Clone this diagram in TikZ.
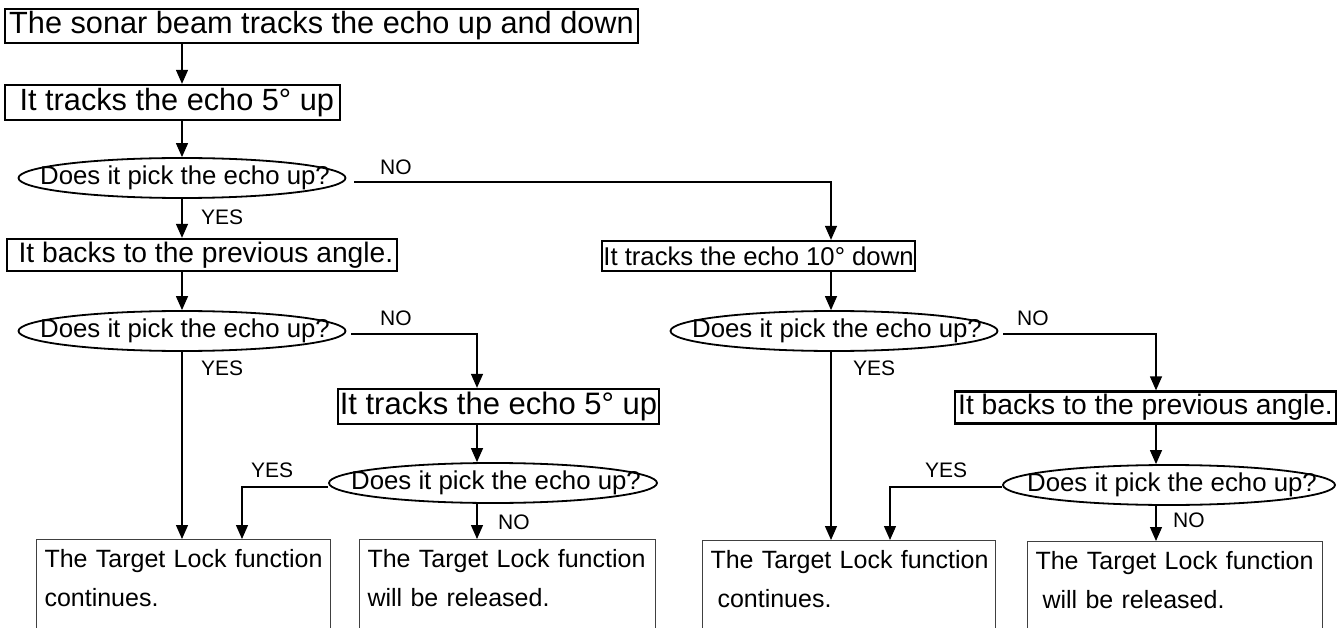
\documentclass[tikz,border=0pt]{standalone}
\usepackage{fontspec}
\setmainfont{Liberation Sans}
\usetikzlibrary{arrows.meta, shapes.geometric}

\newcommand{\fsz}[1]{\fontsize{#1}{#1}\selectfont}

\begin{document}
\begin{tikzpicture}[
	x=1pt, y=-1pt,
	box/.style={draw, line width=2.3pt, inner sep=0pt, minimum height=34pt},
	ask/.style={draw, ellipse, line width=1.8pt, inner sep=0pt, minimum height=40pt, font=\fsz{25.8}},
	result/.style={draw=black!75, line width=1pt, anchor=north west, align=left, inner xsep=8pt, inner ysep=10pt, text depth=75pt, font=\fontsize{25}{39}\selectfont},
	arrow/.style={-{Triangle[length=14pt, width=12pt]}, line width=1.3pt},
	lbl/.style={anchor=west, inner sep=0pt, font=\fsz{21}}
]
	\useasboundingbox (0,0) rectangle (1341,628);
	\clip (0,0) rectangle (1341,628);

	\node[box, minimum width=633pt, font=\fsz{30.7}] (top) at (321.5,26) {The sonar beam tracks the echo up and down};
	\node[box, minimum width=335pt, minimum height=35pt, font=\fsz{30.7}] (up1) at (172.5,102.5) {\ It tracks the echo 5° up};
	\node[ask, minimum width=327pt] (ask1) at (182,178) {\makebox[0pt]{\hspace*{6pt}Does it pick the echo up?}};
	\node[box, minimum width=390pt, minimum height=32pt, font=\fsz{28.2}] (back1) at (202,255) {\ It backs to the previous angle.};
	\node[box, minimum width=313pt, minimum height=30pt, font=\fsz{25.7}] (down1) at (758.5,256) {It tracks the echo 10° down};
	\node[ask, minimum width=327pt] (ask2) at (182,331) {\makebox[0pt]{\hspace*{6pt}Does it pick the echo up?}};
	\node[box, minimum width=321pt, minimum height=35pt, font=\fsz{31}] (up2) at (498.5,406.5) {It tracks the echo 5° up};
	\node[ask, minimum width=328pt] (ask3) at (493,483) {\makebox[0pt]{\hspace*{6pt}Does it pick the echo up?}};
	\node[ask, minimum width=327pt] (ask4) at (834,331) {\makebox[0pt]{\hspace*{6pt}Does it pick the echo up?}};
	\node[box, minimum width=381pt, minimum height=32pt, font=\fsz{28.2}] (back2) at (1145.5,407.5) {It backs to the previous angle.};
	\node[ask, minimum width=332pt] (ask5) at (1169,485) {\makebox[0pt]{\hspace*{6pt}Does it pick the echo up?}};

	\node[result, text width=278pt] (res1) at (36,539) {\mbox{The Target Lock function}\\continues.};
	\node[result, text width=280pt] (res2) at (359,539) {\mbox{The Target Lock function}\\will be released.};
	\node[result, text width=277pt] (res3) at (702,540) {\mbox{The Target Lock function}\\\hspace*{0.28em}continues.};
	\node[result, text width=279pt] (res4) at (1027,541) {\mbox{The Target Lock function}\\\hspace*{0.28em}will be released.};

	\node[lbl] (y1) at (201,217) {YES};
	\node[lbl] (n1) at (380,167) {NO};
	\node[lbl] (n2) at (380,318) {NO};
	\node[lbl] (y2) at (201,368) {YES};
	\node[lbl] (y3) at (251,470) {YES};
	\node[lbl] (n3) at (498,522) {NO};
	\node[lbl] (n4) at (1017,318) {NO};
	\node[lbl] (y4) at (853,368) {YES};
	\node[lbl] (y5) at (925,470) {YES};
	\node[lbl] (n5) at (1173,520) {NO};

	\coordinate (colB) at (477,0);
	\coordinate (colC) at (831,0);
	\coordinate (colD) at (1156,0);
	\coordinate (inA) at (242,0);
	\coordinate (inB) at (890,0);

	\draw[arrow] (top.south -| ask1) -- (up1.north -| ask1);
	\draw[arrow] (up1.south -| ask1) -- (ask1.north);
	\draw[arrow] (ask1.south) -- (back1.north -| ask1);
	\draw[arrow, shorten <=8pt] ([yshift=-4pt]ask1.east) -| (down1.north -| colC);
	\draw[arrow] (back1.south -| ask2) -- (ask2.north);
	\draw[arrow, shorten <=5pt] ([yshift=-3pt]ask2.east) -| (up2.north -| colB);
	\draw[arrow] (ask2.south) -- (res1.north -| ask2);
	\draw[arrow] (up2.south -| colB) -- (ask3.north -| colB);
	\draw[arrow] ([yshift=-4pt]ask3.west) -| (res1.north -| inA);
	\draw[arrow] (ask3.south -| colB) -- (res2.north -| colB);
	\draw[arrow] (down1.south -| colC) -- (ask4.north -| colC);
	\draw[arrow, shorten <=5pt] ([yshift=-3pt]ask4.east) -| (back2.north -| colD);
	\draw[arrow] (ask4.south -| colC) -- (res3.north -| colC);
	\draw[arrow] (back2.south -| colD) -- (ask5.north -| colD);
	\draw[arrow] ([yshift=-2pt]ask5.west) -| (res3.north -| inB);
	\draw[arrow] (ask5.south -| colD) -- (res4.north -| colD);
\end{tikzpicture}
\end{document}
